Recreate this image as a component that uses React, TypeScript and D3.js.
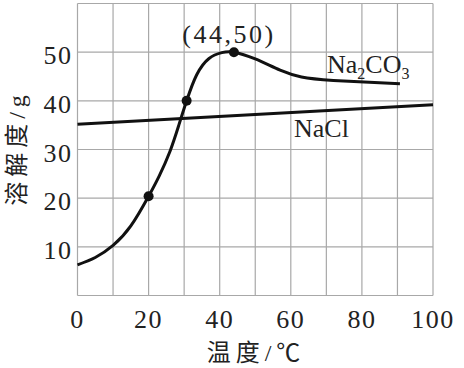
import React from 'react';
import * as d3 from 'd3';

// solubility curves
const na2co3Temp = [0, 5, 10, 15, 20, 23, 26, 28.5, 30.7, 33.5, 37, 40.6, 44, 50, 57, 63, 72, 90.7];
const na2co3Sol = [6.3, 7.8, 10.3, 14.3, 20.4, 24.6, 29.6, 35, 40, 45.3, 48.7, 49.9, 50, 48.6, 46.3, 44.9, 44.2, 43.5];
const markTemp = [20, 30.7, 44];
const markSol = [20.4, 40, 50];
const naclTemp = [0, 50, 100];
const naclSol = [35.2, 37.2, 39.2];
const xTicks = [0, 20, 40, 60, 80, 100];
const yTicks = [10, 20, 30, 40, 50];
const gridX = d3.range(0, 101, 10);
const gridY = d3.range(0, 61, 10);

const W = 464, H = 368;
const serif = '"Liberation Serif", "Times New Roman", serif';
const cjk = '"Liberation Serif", "Noto Sans CJK SC", serif';

const App = () => {
    const x = d3.scaleLinear().domain([0, 100]).range([77.5, 433]);
    const y = d3.scaleLinear().domain([0, 60]).range([295.5, 3.5]);

    const curve = d3.line<number>()
        .x((d, i) => x(na2co3Temp[i]))
        .y((d) => y(d))
        .curve(d3.curveNatural);
    const straight = d3.line<number>()
        .x((d, i) => x(naclTemp[i]))
        .y((d) => y(d));

    return (
        <svg width={W} height={H} style={{position: 'absolute', left: 0, top: 0, background: '#fff'}}>
            <rect width={W} height={H} fill="#fff"/>
            {/* grid */}
            <g stroke="#a8a8a8" strokeWidth={1.2}>
                {gridX.map((v) => <line key={'gx' + v} x1={x(v)} x2={x(v)} y1={y(0)} y2={y(60)}/>)}
                {gridY.map((v) => <line key={'gy' + v} x1={x(0)} x2={x(100)} y1={y(v)} y2={y(v)}/>)}
            </g>

            {/* curves */}
            <path d={straight(naclSol) || ''} fill="none" stroke="#111" strokeWidth={3}/>
            <path d={curve(na2co3Sol) || ''} fill="none" stroke="#111" strokeWidth={3}/>
            {markTemp.map((t, i) => (
                <circle key={'m' + i} cx={x(t)} cy={y(markSol[i])} r={5} fill="#111"/>
            ))}

            {/* tick labels */}
            <g fontFamily={serif} fontSize={26} fill="#222" letterSpacing={1.5}>
                {xTicks.map((v) => (
                    <text key={'xt' + v} x={x(v)} y={328} textAnchor="middle">{v}</text>
                ))}
                {yTicks.map((v) => (
                    <text key={'yt' + v} x={x(0) - 5} y={y(v) + 12} textAnchor="end">{v}</text>
                ))}
            </g>

            {/* annotations */}
            <g fontFamily={serif} fill="#222">
                <text x={x(44) - 5} y={43} fontSize={26} textAnchor="middle" letterSpacing={2.5}>(44,50)</text>
                <text x={327} y={73} fontSize={26}>
                    Na<tspan fontSize={16} dy={6}>2</tspan><tspan dy={-6}>CO</tspan><tspan fontSize={16} dy={6}>3</tspan>
                </text>
                <text x={294} y={137} fontSize={26}>NaCl</text>
            </g>

            {/* axis titles */}
            <text x={256} y={361} fontFamily={cjk} fontSize={24} fill="#222" textAnchor="middle" letterSpacing={5}>温度/℃</text>
            <text transform={`translate(25,148) rotate(-90)`} fontFamily={cjk} fontSize={24} fill="#222"
                  textAnchor="middle" letterSpacing={5}>溶解度/g</text>
        </svg>
    );
};

export default App;
